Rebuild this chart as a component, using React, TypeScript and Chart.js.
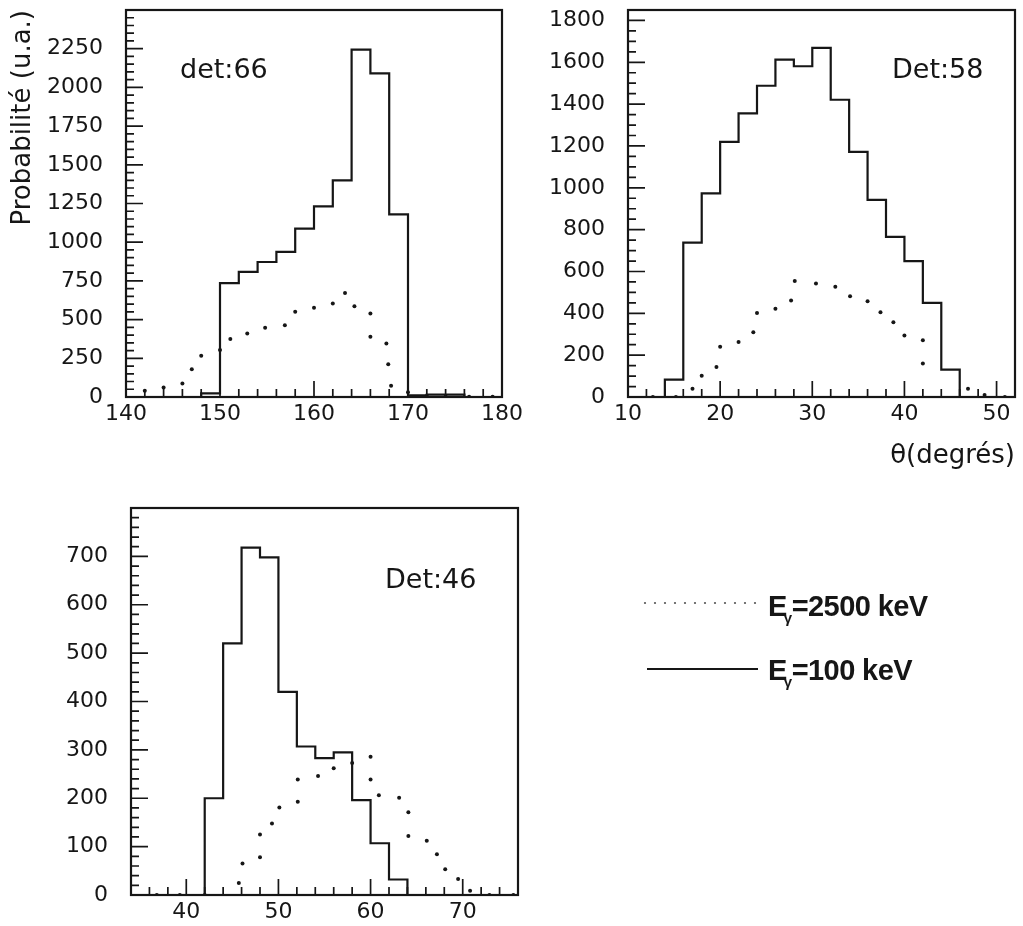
import React, { useEffect, useRef } from 'react';
import { Chart, registerables } from 'chart.js';

Chart.register(...registerables);

const FONT = "'DejaVu Sans', sans-serif";
const LEGEND_FONT = "'Liberation Sans', Arial, sans-serif";
const INK = '#161616';

// ---------- det:66 ----------
const det66Edges = [140, 148, 150, 152, 154, 156, 158, 160, 162, 164, 166, 168, 170, 172, 176, 180];
const det66Low = [0, 24, 735, 808, 872, 937, 1088, 1231, 1399, 2244, 2091, 1180, 10, 15, 0, 0];
const det66DotX = [142, 144, 146, 147, 148, 150, 151.1, 152.9, 154.8, 156.9, 158, 160, 162, 163.3, 164.3, 166, 166, 167.7, 167.9, 168.2, 170, 172, 174, 176.5, 179];
const det66DotY = [41, 62, 88, 180, 266, 303, 374, 411, 447, 464, 550, 576, 604, 672, 587, 540, 389, 346, 211, 73, 30, 6, 3, 2, 2];
const det66XTicks = [140, 150, 160, 170, 180];
const det66YTicks = [0, 250, 500, 750, 1000, 1250, 1500, 1750, 2000, 2250];

// ---------- Det:58 ----------
const det58Edges = [10, 14, 16, 18, 20, 22, 24, 26, 28, 30, 32, 34, 36, 38, 40, 42, 44, 46, 52];
const det58Low = [0, 83, 738, 973, 1220, 1356, 1488, 1613, 1581, 1669, 1421, 1172, 942, 765, 650, 450, 131, 0, 0];
const det58DotX = [12.7, 15.2, 17, 18, 19.6, 20, 22, 23.6, 24, 26, 27.7, 28.1, 30.4, 32.5, 34.1, 36, 37.4, 38.8, 40, 42, 42, 46.9, 48.7, 50.9];
const det58DotY = [0, 0, 40, 102, 144, 240, 263, 310, 402, 422, 461, 554, 543, 527, 482, 458, 405, 357, 294, 271, 160, 40, 10, 0];
const det58XTicks = [10, 20, 30, 40, 50];
const det58YTicks = [0, 200, 400, 600, 800, 1000, 1200, 1400, 1600, 1800];

// ---------- Det:46 ----------
const det46Edges = [34, 42, 44, 46, 48, 50, 52, 54, 56, 58, 60, 62, 64, 76];
const det46Low = [0, 200, 520, 718, 698, 420, 307, 283, 295, 196, 107, 32, 0, 0];
const det46DotX = [36.8, 39.3, 42, 45.7, 46.1, 48, 48, 49.3, 50.1, 52.1, 52.1, 54.3, 56, 58, 60, 60, 60.9, 63.1, 64.1, 64.1, 66.1, 67.2, 68.1, 69.5, 70.8, 72.9, 75.5];
const det46DotY = [0, 0, 0, 25, 65, 78, 125, 148, 181, 193, 239, 246, 262, 273, 286, 239, 206, 201, 171, 122, 112, 84, 53, 33, 9, 0, 0];
const det46XTicks = [40, 50, 60, 70];
const det46YTicks = [0, 100, 200, 300, 400, 500, 600, 700];

const seriesLabels = ['=2500 keV', '=100 keV'];
const yTitle = 'Probabilité (u.a.)';
const xTitle = 'θ(degrés)';

const zip = (xs: number[], ys: number[]) => xs.map((x, i) => ({ x, y: ys[i] }));

type PanelSpec = {
  edges: number[]; low: number[]; dotX: number[]; dotY: number[];
  xMin: number; xMax: number; yMax: number;
  xTicks: number[]; yTicks: number[];
  xMinor: number; xMajor: number; yMinor: number; yMajor: number;
  label: string; labelDx: number; labelDy: number;
  padding: { top: number; right: number; bottom: number; left: number };
  yWidth: number; xHeight: number;
  yTitle?: string; xTitle?: string;
  legend?: boolean;
};

function framePlugin(p: PanelSpec) {
  return {
    id: 'frameTicks',
    afterDatasetsDraw(chart: any) {
      const { ctx, chartArea: a, scales } = chart;
      const xs = scales.x, ys = scales.y;
      const eps = 1e-6;
      ctx.save();
      ctx.strokeStyle = INK;
      ctx.lineWidth = 1.7;
      ctx.beginPath();
      for (let v = Math.ceil(xs.min / p.xMinor) * p.xMinor; v <= xs.max + eps; v += p.xMinor) {
        const px = xs.getPixelForValue(v);
        if (px <= a.left + 1 || px >= a.right - 1) continue;
        const major = Math.abs(v / p.xMajor - Math.round(v / p.xMajor)) < eps;
        ctx.moveTo(px, a.bottom);
        ctx.lineTo(px, a.bottom - (major ? 16 : 8));
      }
      for (let v = p.yMinor; v <= ys.max + eps; v += p.yMinor) {
        const py = ys.getPixelForValue(v);
        if (py <= a.top + 1) continue;
        const major = Math.abs(v / p.yMajor - Math.round(v / p.yMajor)) < eps;
        ctx.moveTo(a.left, py);
        ctx.lineTo(a.left + (major ? 17 : 8), py);
      }
      ctx.stroke();
      ctx.lineWidth = 2.2;
      ctx.strokeRect(a.left, a.top, a.right - a.left, a.bottom - a.top);
      ctx.fillStyle = INK;
      ctx.font = `27px ${FONT}`;
      ctx.textBaseline = 'alphabetic';
      ctx.textAlign = 'left';
      ctx.fillText(p.label, a.left + p.labelDx, a.top + p.labelDy);
      ctx.restore();
    },
  };
}

function drawLegendText(ctx: CanvasRenderingContext2D, x: number, y: number, rest: string) {
  (ctx as any).letterSpacing = '-0.6px';
  ctx.font = `bold 29px ${LEGEND_FONT}`;
  ctx.fillText('E', x, y);
  const w = ctx.measureText('E').width;
  ctx.font = `bold 15px ${LEGEND_FONT}`;
  ctx.fillText('γ', x + w - 3, y + 7);
  ctx.font = `bold 29px ${LEGEND_FONT}`;
  ctx.fillText(rest, x + w + 5, y);
  (ctx as any).letterSpacing = '0px';
}

const legendPlugin = {
  id: 'sideLegend',
  afterDraw(chart: any) {
    const ctx: CanvasRenderingContext2D = chart.ctx;
    ctx.save();
    ctx.fillStyle = '#555';
    for (let x = 645; x <= 755; x += 10) {
      ctx.beginPath();
      ctx.arc(x, 123, 1.1, 0, Math.PI * 2);
      ctx.fill();
    }
    ctx.strokeStyle = INK;
    ctx.lineWidth = 2;
    ctx.beginPath();
    ctx.moveTo(647, 189);
    ctx.lineTo(758, 189);
    ctx.stroke();
    ctx.fillStyle = INK;
    ctx.textBaseline = 'alphabetic';
    ctx.textAlign = 'left';
    drawLegendText(ctx, 768, 136, seriesLabels[0]);
    drawLegendText(ctx, 768, 200, seriesLabels[1]);
    ctx.restore();
  },
};

function makeConfig(p: PanelSpec): any {
  const tickFont = { family: FONT, size: 22 };
  const plugins: any[] = [framePlugin(p)];
  if (p.legend) plugins.push(legendPlugin);
  const plain = (v: any) => String(v);
  return {
    type: 'line',
    data: {
      datasets: [
        {
          label: seriesLabels[1],
          data: zip(p.edges, p.low),
          stepped: 'before',
          borderColor: INK,
          borderWidth: 2.2,
          pointRadius: 0,
          fill: false,
        },
        {
          label: seriesLabels[0],
          data: zip(p.dotX, p.dotY),
          showLine: false,
          pointRadius: 2,
          pointBackgroundColor: INK,
          pointBorderWidth: 0,
        },
      ],
    },
    options: {
      responsive: false,
      animation: false,
      devicePixelRatio: 1,
      layout: { padding: p.padding },
      plugins: { legend: { display: false }, tooltip: { enabled: false } },
      scales: {
        x: {
          type: 'linear',
          min: p.xMin,
          max: p.xMax,
          grid: { display: false, drawTicks: false },
          border: { display: false },
          ticks: { font: tickFont, color: INK, padding: 4, maxRotation: 0, autoSkip: false, callback: plain },
          afterBuildTicks: (s: any) => { s.ticks = p.xTicks.map((v) => ({ value: v })); },
          afterFit: (s: any) => { s.height = p.xHeight; s.paddingLeft = 0; s.paddingRight = 0; },
          title: p.xTitle
            ? { display: true, text: p.xTitle, align: 'end', color: INK, font: { family: FONT, size: 26 }, padding: { top: 0, bottom: 8 } }
            : { display: false },
        },
        y: {
          type: 'linear',
          min: 0,
          max: p.yMax,
          grid: { display: false, drawTicks: false },
          border: { display: false },
          ticks: { font: tickFont, color: INK, padding: 23, autoSkip: false, callback: plain },
          afterBuildTicks: (s: any) => { s.ticks = p.yTicks.map((v) => ({ value: v })); },
          afterFit: (s: any) => { s.width = p.yWidth; s.paddingTop = 0; s.paddingBottom = 0; },
          title: p.yTitle
            ? { display: true, text: p.yTitle, align: 'end', color: INK, font: { family: FONT, size: 26 }, padding: { top: 8, bottom: 0 } }
            : { display: false },
        },
      },
    },
    plugins,
  };
}

function Panel({ spec, left, top, width, height }: { spec: PanelSpec; left: number; top: number; width: number; height: number }) {
  const ref = useRef<HTMLCanvasElement>(null);
  useEffect(() => {
    const chart = new Chart(ref.current as HTMLCanvasElement, makeConfig(spec));
    return () => chart.destroy();
  }, []);
  return (
    <canvas
      ref={ref}
      width={width}
      height={height}
      style={{ position: 'absolute', left, top, width, height }}
    />
  );
}

const panel66: PanelSpec = {
  edges: det66Edges, low: det66Low, dotX: det66DotX, dotY: det66DotY,
  xMin: 140, xMax: 180, yMax: 2500,
  xTicks: det66XTicks, yTicks: det66YTicks,
  xMinor: 2, xMajor: 10, yMinor: 50, yMajor: 250,
  label: 'det:66', labelDx: 54, labelDy: 68,
  padding: { top: 10, right: 38, bottom: 0, left: 0 },
  yWidth: 126, xHeight: 43,
  yTitle,
};

const panel58: PanelSpec = {
  edges: det58Edges, low: det58Low, dotX: det58DotX, dotY: det58DotY,
  xMin: 10, xMax: 52, yMax: 1850,
  xTicks: det58XTicks, yTicks: det58YTicks,
  xMinor: 2, xMajor: 10, yMinor: 50, yMajor: 200,
  label: 'Det:58', labelDx: 264, labelDy: 68,
  padding: { top: 10, right: 8, bottom: 0, left: 0 },
  yWidth: 98, xHeight: 83,
  xTitle,
};

const panel46: PanelSpec = {
  edges: det46Edges, low: det46Low, dotX: det46DotX, dotY: det46DotY,
  xMin: 34, xMax: 76, yMax: 800,
  xTicks: det46XTicks, yTicks: det46YTicks,
  xMinor: 2, xMajor: 10, yMinor: 20, yMajor: 100,
  label: 'Det:46', labelDx: 254, labelDy: 80,
  padding: { top: 28, right: 505, bottom: 0, left: 0 },
  yWidth: 131, xHeight: 31,
  legend: true,
};

export default function App() {
  return (
    <div style={{ position: 'absolute', left: 0, top: 0, width: 1023, height: 926, background: '#fff' }}>
      <Panel spec={panel66} left={0} top={0} width={540} height={440} />
      <Panel spec={panel58} left={530} top={0} width={493} height={480} />
      <Panel spec={panel46} left={0} top={480} width={1023} height={446} />
    </div>
  );
}
